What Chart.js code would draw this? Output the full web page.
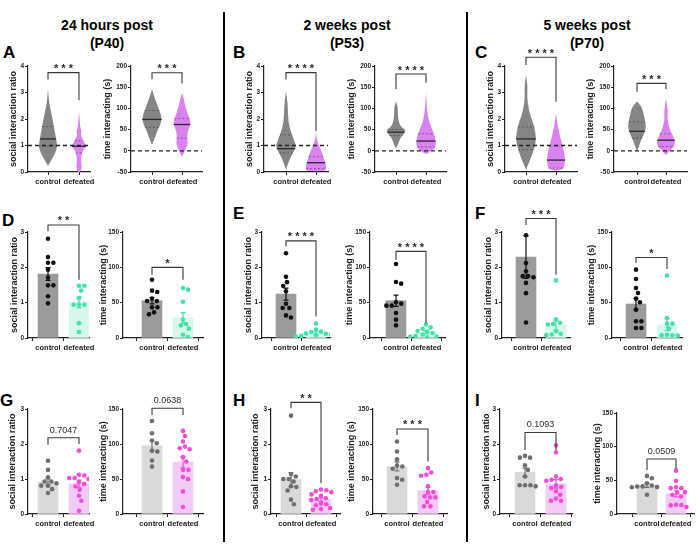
<!DOCTYPE html>
<html>
<head>
<meta charset="utf-8">
<script src="https://cdn.jsdelivr.net/npm/chart.js@4.4.1/dist/chart.umd.min.js"></script>
<style>
body { margin: 0; background: #fff; }
#fig { position: relative; width: 696px; height: 554px; overflow: hidden; font-family: "Liberation Sans", Arial, sans-serif; color: #000; }
.head { position: absolute; top: 16px; width: 200px; font-weight: bold; font-size: 14px; line-height: 18px; text-align: center; }
.letter { position: absolute; font-weight: bold; font-size: 17px; line-height: 17px; }
.sep { position: absolute; top: 12px; width: 2px; height: 530px; background: #000; }
canvas { position: absolute; }
</style>
</head>
<body>
<div id="fig"></div>
<script>
// ---------- labels ----------
const groups = ['control', 'defeated'];
const timepoints = ['24 hours post', '2 weeks post', '5 weeks post'];
const ages = ['(P40)', '(P53)', '(P70)'];
const panelLetters = ['A', 'B', 'C', 'D', 'E', 'F', 'G', 'H', 'I'];
const yTitles = ['social interaction ratio', 'time interacting (s)'];

// ---------- row 1: violin outlines [value, relative half width] ----------
const vA_ratio_ctrl = [[3.09,0],[2.8,0.08],[2.59,0.13],[2.22,0.33],[1.71,0.6],[1.2,0.83],[0.96,0.93],[0.72,0.73],[0.45,0.33],[0.23,0]];
const vA_ratio_def = [[2.27,0],[1.9,0.08],[1.66,0.13],[1.52,0.27],[1.4,0.17],[1.28,0.33],[1.14,0.47],[1.02,0.73],[0.93,0.67],[0.83,0.4],[0.64,0.27],[0.45,0.2],[0.26,0.27],[0.08,0.23],[-0.05,0]];
const vA_time_ctrl = [[145,0],[120,0.33],[96,0.73],[77,1.0],[61,0.83],[45,0.5],[29.5,0.27],[14,0]];
const vA_time_def = [[135.6,0],[130,0.1],[112,0.27],[88.5,0.53],[72.6,0.83],[61,0.83],[49,0.6],[33,0.5],[17.7,0.6],[6,0.4],[-6,0.17],[-14,0]];
const vB_ratio_ctrl = [[3.03,0],[2.59,0.17],[2.09,0.2],[1.71,0.33],[1.33,0.67],[1.08,0.93],[0.93,1.0],[0.71,0.67],[0.45,0.33],[0.2,0.1],[0.08,0]];
const vB_ratio_def = [[1.56,0],[1.3,0.05],[1.21,0.1],[1.02,0.27],[0.83,0.5],[0.58,0.73],[0.45,0.83],[0.26,1.0],[0.1,1.0],[0.04,0.9],[0.03,0]];
const vB_time_ctrl = [[116,0],[104,0.2],[80,0.17],[65,0.33],[57,0.5],[49,0.93],[41,0.83],[29.5,0.4],[14,0.2],[6,0]];
const vB_time_def = [[139,0],[96,0.1],[72.6,0.27],[57,0.5],[45,0.73],[29.5,0.93],[14,1.0],[2,0.73],[-8,0]];
const vC_ratio_ctrl = [[3.66,0],[3.22,0.17],[2.84,0.1],[2.34,0.27],[1.96,0.6],[1.71,0.83],[1.33,1.0],[1.02,0.93],[0.71,0.67],[0.39,0.33],[0.08,0]];
const vC_ratio_def = [[2.21,0],[1.71,0.17],[1.21,0.5],[0.96,0.67],[0.71,0.83],[0.45,0.9],[0.2,0.83],[0.08,0.6],[0.05,0]];
const vC_time_ctrl = [[116,0],[104,0.5],[80.4,0.73],[57,0.93],[41,0.73],[25.5,0.4],[10,0.2],[-2,0]];
const vC_time_def = [[123.8,0],[96,0.2],[72.6,0.13],[49,0.4],[37,0.67],[21.5,0.93],[10,0.83],[-2,0.33],[-10,0]];

// [median, upper quartile, lower quartile] for control, defeated
const vA_ratio_stats = [[1.25,1.72,0.97],[0.97,1.18,0.72]];
const vA_time_stats = [[74,95,55],[62,76,30]];
const vB_ratio_stats = [[0.88,1.4,0.72],[0.35,0.58,0.13]];
const vB_time_stats = [[44,50,36],[23,40,9]];
const vC_ratio_stats = [[1.25,1.7,0.84],[0.45,0.98,0.15]];
const vC_time_stats = [[46,68,30],[25,40,10]];

// ---------- rows 2 and 3: individual animals ----------
const D_ratio_ctrl = [2.81,2.29,2.13,2.13,1.93,1.71,1.49,1.49,1.18,0.98];
const D_ratio_def = [1.48,1.48,1.34,1.13,0.94,0.94,0.94,0.42,0.17];
const D_time_ctrl = [82.5,67,65,55.7,52.4,52.4,43.4,43.4,36.3,33.5];
const D_time_def = [70.8,68.4,51.4,26,19.8,17.9,13.2,4.7,1.4];
const E_ratio_ctrl = [2.40,1.73,1.58,1.47,1.32,0.97,0.85,0.85,0.64,0.58];
const E_ratio_def = [0.41,0.24,0.18,0.17,0.13,0.12,0.10,0.08,0.06,0.04,0.03];
const E_time_ctrl = [104.7,79.2,76.9,50.5,48.6,45.8,45.8,35.4,26,17.9];
const E_time_def = [19,15,13,10,9,7,5,3,2,2,1];
const F_ratio_ctrl = [2.91,2.12,1.89,1.75,1.75,1.72,1.56,1.27,0.44];
const F_ratio_def = [1.63,0.53,0.43,0.40,0.38,0.19,0.12,0.10,0.08];
const F_time_ctrl = [96.7,83.5,70.8,63.7,55.7,50.5,40.1,23.6,23.6,14.2,14.2];
const F_time_def = [88.2,28.3,20.3,20.3,13.2,4.7,3.8,3.8,3.3];
const G_ratio_ctrl = [1.52,1.26,1.05,0.93,0.93,0.88,0.81,0.81,0.71,0.60];
const G_ratio_def = [1.81,1.12,1.10,1.03,1.03,1.0,0.91,0.86,0.79,0.69,0.52,0.38,0.09];
const G_time_ctrl = [132.9,115.3,104.9,101.1,90.2,89.2,76.4,67.9];
const G_time_def = [118.7,111.5,103.5,96.3,94,92.5,81.2,75,63.1,63.1,52.7,49.8,32.3,10];
const H_ratio_ctrl = [2.81,1.14,1.07,1.0,1.0,0.93,0.79,0.77,0.67,0.41,0.28];
const H_ratio_def = [0.70,0.68,0.65,0.62,0.56,0.52,0.45,0.43,0.40,0.30,0.28,0.25,0.17,0.14,0.12];
const H_time_ctrl = [103.5,89.2,78.3,69.3,67.9,64.6,51.3,48.9,41.8];
const H_time_def = [65.5,59.3,56,54.6,39.4,31.3,31.3,25.2,23.7,23.7,17.1,10.9,10.9];
const I_ratio_ctrl = [1.66,1.61,1.61,1.39,1.26,1.07,0.82,0.82,0.82,0.79];
const I_ratio_def = [1.96,1.76,1.07,1.0,0.98,0.95,0.81,0.77,0.74,0.65,0.55,0.44,0.38,0.38];
const I_time_ctrl = [56.6,53.1,45.7,42.3,41,40.8,40,39.8,28.5];
const I_time_def = [64.4,49.2,39.8,38.4,38.4,32.5,32,28.5,26.1,13.8,13.3,12.8,10.3];

// bar heights (mean) and SEM, [control, defeated]
const D_ratio_mean = [1.81, 1.01], D_ratio_sem = [0.18, 0.15];
const D_time_mean = [52.8, 28.3], D_time_sem = [4.5, 7.5];
const E_ratio_mean = [1.24, 0.14], E_ratio_sem = [0.17, 0.035];
const E_time_mean = [52.8, 8], E_time_sem = [8, 2];
const F_ratio_mean = [2.29, 0.36], F_ratio_sem = [0.6, 0.13];
const F_time_mean = [48.1, 18.9], F_time_sem = [8, 8.5];
const G_ratio_mean = [0.91, 0.86], G_ratio_sem = [0.09, 0.11];
const G_time_mean = [97.3, 74], G_time_sem = [7, 8];
const H_ratio_mean = [0.98, 0.41], H_ratio_sem = [0.2, 0.05];
const H_time_mean = [67.9, 33.2], H_time_sem = [6.5, 5];
const I_ratio_mean = [1.19, 0.86], I_ratio_sem = [0.12, 0.12];
const I_time_mean = [42.3, 30], I_time_sem = [2.8, 4.5];

// significance brackets: [bar height, control drop, defeated drop]
const sigA = [[3.75,3.49,2.71],[184,168.6,159]], sigTextA = ['***','***'];
const sigB = [[3.75,3.49,1.55],[181,145,160.6]], sigTextB = ['****','****'];
const sigC = [[4.33,4.04,2.65],[159,139.4,145]], sigTextC = ['****','***'];
const sigD = [[3.2,3.02,1.65],[100,89.6,82.5]], sigTextD = ['**','*'];
const sigE = [[2.75,2.59,0.61],[122.6,110.8,21]], sigTextE = ['****','****'];
const sigF = [[3.38,3.2,1.79],[114,106,97.6]], sigTextF = ['***','*'];
const sigG = [[2.18,1.98,2.0],[151,141.4,141.4]], sigTextG = ['0.7047','0.0638'];
const sigH = [[3.19,3.02,0.88],[121.5,113,75]], sigTextH = ['**','***'];
const sigI = [[2.33,1.83,1.83],[81.7,65.4,66.4]], sigTextI = ['0.1093','0.0509'];

// ---------- styles ----------
const violinColors = ['#858585', '#d982f0'];
const row2Bar = ['#9b9b9b', '#d8f7eb'], row2Pt = ['#111111', '#42e2a9'];
const row3Bar = ['#d9d9d9', '#f1cbf6'], row3Pt = ['#6e6e6e', '#f44cd9'];
const ratioAxis = { min: 0, max: 3, step: 1 }, timeAxis = { min: 0, max: 150, step: 50 };
const ratioAxisV = { min: 0, max: 4, step: 1 }, timeAxisV = { min: -50, max: 200, step: 50 };

Chart.defaults.font.family = '"Liberation Sans", Arial, sans-serif';
Chart.defaults.color = '#222';

const fig = document.getElementById('fig');

// headings, letters and separators
[107, 347, 587].forEach((cx, i) => {
    const h = document.createElement('div');
    h.className = 'head';
    h.style.left = (cx - 100) + 'px';
    h.innerHTML = timepoints[i] + '<br>' + ages[i];
    fig.appendChild(h);
});
[[3,44],[233,44],[475,44],[2,212],[233,205],[475,205],[0,392],[233,392],[475,392]].forEach((p, i) => {
    const l = document.createElement('div');
    l.className = 'letter';
    l.style.left = p[0] + 'px';
    l.style.top = p[1] + 'px';
    l.textContent = panelLetters[i];
    fig.appendChild(l);
});
[223, 466].forEach(x => {
    const s = document.createElement('div');
    s.className = 'sep';
    s.style.left = x + 'px';
    fig.appendChild(s);
});

/* Spread points sideways so they do not overlap (beeswarm) */
const swarm = (vals, cx, pxX, pxY) => {
    const D = 5.4;
    const placed = [];
    return vals.map(v => {
        const y = v * pxY;
        const cands = [0];
        placed.forEach(p => {
            const dy = Math.abs(p.y - y);
            if (dy < D) {
                const dx = Math.sqrt(D * D - dy * dy);
                cands.push(p.x + dx, p.x - dx);
            }
        });
        cands.sort((a, b) => Math.abs(a) - Math.abs(b));
        const x = cands.find(c => placed.every(p => (p.x - c) ** 2 + (p.y - y) ** 2 >= D * D - 1e-6));
        placed.push({ x: x, y: y });
        return { x: cx + x / pxX, y: v };
    });
};

const widthAt = (prof, v) => {
    for (let i = 0; i < prof.length - 1; i++) {
        const [v0, w0] = prof[i], [v1, w1] = prof[i + 1];
        if ((v <= v0 && v >= v1)) return w0 + (w1 - w0) * (v - v0) / (v1 - v0);
    }
    return 0;
};

/* Builds one small chart whose plot area sits at p.l..p.r / p.t..p.b on the page */
const buildPanel = (p) => {
    const YW = Math.round(p.titleOff + 9 * 0.6);
    const PT = 28, XH = 22, PR = 14;
    const W = (p.r - p.l) + YW + PR, H = (p.b - p.t) + PT + XH;
    const cv = document.createElement('canvas');
    cv.width = W; cv.height = H;
    cv.style.left = (p.l - YW) + 'px'; cv.style.top = (p.t - PT) + 'px';
    cv.style.width = W + 'px'; cv.style.height = H + 'px';
    fig.appendChild(cv);

    const pxX = p.d - p.c;
    const xmin = (p.l - p.c) / pxX, xmax = (p.r - p.c) / pxX;
    const pxY = (p.b - p.t) / (p.axis.max - p.axis.min);
    const datasets = [];

    if (p.violins) {
        datasets.push({
            type: 'scatter', showLine: true, pointRadius: 0,
            data: [{ x: xmin, y: p.ref }, { x: xmax, y: p.ref }],
            borderColor: '#222', borderWidth: 1.3, borderDash: [4, 3], order: 0
        });
    } else {
        datasets.push({
            type: 'bar', barThickness: 20, order: 3,
            data: [{ x: 0, y: p.mean[0] }, { x: 1, y: p.mean[1] }],
            backgroundColor: p.barColors
        });
        const cw = 2.5 / pxX;
        [0, 1].forEach(i => {
            const m = p.mean[i], s = p.sem[i];
            datasets.push({
                type: 'scatter', showLine: true, pointRadius: 0, order: 2,
                borderColor: p.ptColors[i], borderWidth: 1.2,
                data: [{ x: i - cw, y: m + s }, { x: i + cw, y: m + s }, { x: i, y: null },
                       { x: i, y: m + s }, { x: i, y: m - s }, { x: i, y: null },
                       { x: i - cw, y: m - s }, { x: i + cw, y: m - s }]
            });
            datasets.push({
                type: 'scatter', order: 1, pointRadius: 2.3, borderWidth: 0,
                backgroundColor: p.ptColors[i],
                data: swarm(p.points[i], i, pxX, pxY)
            });
        });
    }

    const figPlugin = {
        id: 'fig',
        beforeDatasetsDraw(chart) {
            if (!p.violins) return;
            const ctx = chart.ctx, xs = chart.scales.x, ys = chart.scales.y, a = chart.chartArea;
            ctx.save();
            ctx.beginPath();
            ctx.rect(a.left, a.top, a.right - a.left, a.bottom - a.top);
            ctx.clip();
            p.violins.forEach((vl, i) => {
                const cx = xs.getPixelForValue(i);
                const left = vl.prof.map(([v, w]) => [cx - w * 10, ys.getPixelForValue(v)]);
                const right = vl.prof.map(([v, w]) => [cx + w * 10, ys.getPixelForValue(v)]).reverse();
                const pts = left.concat(right);
                ctx.beginPath();
                ctx.moveTo(pts[0][0], pts[0][1]);
                for (let k = 1; k < pts.length - 1; k++) {
                    const mx = (pts[k][0] + pts[k + 1][0]) / 2, my = (pts[k][1] + pts[k + 1][1]) / 2;
                    ctx.quadraticCurveTo(pts[k][0], pts[k][1], mx, my);
                }
                ctx.lineTo(pts[pts.length - 1][0], pts[pts.length - 1][1]);
                ctx.closePath();
                ctx.fillStyle = vl.color;
                ctx.fill();
                // median and quartiles
                vl.stats.forEach((v, k) => {
                    const hw = widthAt(vl.prof, v) * 10;
                    const y = ys.getPixelForValue(v);
                    ctx.beginPath();
                    ctx.setLineDash(k === 0 ? [] : [2, 2]);
                    ctx.strokeStyle = k === 0 ? '#2a2a2a' : 'rgba(0,0,0,0.35)';
                    ctx.lineWidth = k === 0 ? 1.3 : 1;
                    ctx.moveTo(cx - hw, y);
                    ctx.lineTo(cx + hw, y);
                    ctx.stroke();
                });
                ctx.setLineDash([]);
            });
            ctx.restore();
        },
        afterDraw(chart) {
            const ctx = chart.ctx, xs = chart.scales.x, ys = chart.scales.y;
            const [yb, yc, yd] = p.sig.map(v => ys.getPixelForValue(v));
            const x0 = xs.getPixelForValue(0), x1 = xs.getPixelForValue(1);
            ctx.save();
            ctx.strokeStyle = '#3a3a3a';
            ctx.lineWidth = 1.1;
            ctx.beginPath();
            ctx.moveTo(x0, yc); ctx.lineTo(x0, yb); ctx.lineTo(x1, yb); ctx.lineTo(x1, yd);
            ctx.stroke();
            ctx.fillStyle = '#2a2a2a';
            ctx.textAlign = 'center';
            ctx.textBaseline = 'middle';
            if (p.sigText.indexOf('*') >= 0) {
                ctx.font = 'bold 11px "Liberation Sans", Arial, sans-serif';
                ctx.fillText(p.sigText.split('').join(' '), (x0 + x1) / 2, yb - 3.5);
            } else {
                ctx.font = '9px "Liberation Sans", Arial, sans-serif';
                ctx.fillText(p.sigText, (x0 + x1) / 2, yb - 7.5);
            }
            ctx.restore();
        }
    };

    new Chart(cv, {
        type: 'scatter',
        data: { datasets: datasets },
        options: {
            responsive: false, animation: false, events: [],
            layout: { padding: { top: PT, right: PR, left: 0, bottom: 0 } },
            plugins: { legend: { display: false }, tooltip: { enabled: false } },
            scales: {
                x: {
                    type: 'linear', min: xmin, max: xmax, offset: false,
                    afterFit: s => { s.height = XH; },
                    afterBuildTicks: s => { s.ticks = [{ value: 0 }, { value: 1 }]; },
                    grid: { drawOnChartArea: false, tickLength: 3, color: '#222' },
                    border: { color: '#222', width: 1.2 },
                    ticks: {
                        autoSkip: false, maxRotation: 0, padding: 2, color: '#222',
                        font: { size: 7.5, weight: 'bold' },
                        callback: (v, i) => groups[i]
                    }
                },
                y: {
                    min: p.axis.min, max: p.axis.max,
                    afterFit: s => { s.width = YW; },
                    grid: { drawOnChartArea: false, tickLength: 3, color: '#222' },
                    border: { color: '#222', width: 1.2 },
                    ticks: { stepSize: p.axis.step, padding: 1, color: '#222', font: { size: 6.5, weight: 'bold' } },
                    title: {
                        display: true, text: p.yTitle, color: '#222',
                        padding: { top: 0, bottom: 0 }, font: { size: 9, weight: 'bold' }
                    }
                }
            }
        },
        plugins: [figPlugin]
    });
};

// ---------- panels ----------
const violinPanel = (l, r, c, d, off, isTime, profC, profD, stats, sig, sigText) => ({
    l: l, r: r, t: 66, b: 172, c: c, d: d, titleOff: off,
    axis: isTime ? timeAxisV : ratioAxisV, ref: isTime ? 0 : 1,
    yTitle: yTitles[isTime ? 1 : 0],
    violins: [
        { prof: profC, stats: stats[0], color: violinColors[0] },
        { prof: profD, stats: stats[1], color: violinColors[1] }
    ],
    sig: sig, sigText: sigText
});
const barPanel = (l, r, t, b, c, d, off, isTime, ctrl, def, mean, sem, sig, sigText, row) => ({
    l: l, r: r, t: t, b: b, c: c, d: d, titleOff: off,
    axis: isTime ? timeAxis : ratioAxis, yTitle: yTitles[isTime ? 1 : 0],
    points: [ctrl, def], mean: mean, sem: sem,
    barColors: row === 2 ? row2Bar : row3Bar, ptColors: row === 2 ? row2Pt : row3Pt,
    sig: sig, sigText: sigText
});

const panels = [
    violinPanel(28, 90, 48, 79, 15, false, vA_ratio_ctrl, vA_ratio_def, vA_ratio_stats, sigA[0], sigTextA[0]),
    violinPanel(131, 202, 152, 182, 24, true, vA_time_ctrl, vA_time_def, vA_time_stats, sigA[1], sigTextA[1]),
    violinPanel(264, 328, 286, 316, 15, false, vB_ratio_ctrl, vB_ratio_def, vB_ratio_stats, sigB[0], sigTextB[0]),
    violinPanel(375, 446, 396, 426, 24, true, vB_time_ctrl, vB_time_def, vB_time_stats, sigB[1], sigTextB[1]),
    violinPanel(505, 577, 526, 556, 15, false, vC_ratio_ctrl, vC_ratio_def, vC_ratio_stats, sigC[0], sigTextC[0]),
    violinPanel(614, 687, 637, 666, 24, true, vC_time_ctrl, vC_time_def, vC_time_stats, sigC[1], sigTextC[1]),

    barPanel(28, 89, 232, 338, 48, 79, 14, false, D_ratio_ctrl, D_ratio_def, D_ratio_mean, D_ratio_sem, sigD[0], sigTextD[0], 2),
    barPanel(123, 203, 232, 338, 152, 183, 20, true, D_time_ctrl, D_time_def, D_time_mean, D_time_sem, sigD[1], sigTextD[1], 2),
    barPanel(262, 330, 232, 338, 286, 316, 14, false, E_ratio_ctrl, E_ratio_def, E_ratio_mean, E_ratio_sem, sigE[0], sigTextE[0], 2),
    barPanel(370, 445, 232, 338, 396, 426, 21, true, E_time_ctrl, E_time_def, E_time_mean, E_time_sem, sigE[1], sigTextE[1], 2),
    barPanel(502, 570, 232, 338, 526, 556, 14, false, F_ratio_ctrl, F_ratio_def, F_ratio_mean, F_ratio_sem, sigF[0], sigTextF[0], 2),
    barPanel(612, 682, 232, 338, 636, 667, 21, true, F_time_ctrl, F_time_def, F_time_mean, F_time_sem, sigF[1], sigTextF[1], 2),

    barPanel(28, 89, 409, 514, 48, 79, 16, false, G_ratio_ctrl, G_ratio_def, G_ratio_mean, G_ratio_sem, sigG[0], sigTextG[0], 3),
    barPanel(123, 203, 409, 514, 152, 183, 20, true, G_time_ctrl, G_time_def, G_time_mean, G_time_sem, sigG[1], sigTextG[1], 3),
    barPanel(271, 340, 409, 514, 291, 321, 16, false, H_ratio_ctrl, H_ratio_def, H_ratio_mean, H_ratio_sem, sigH[0], sigTextH[0], 3),
    barPanel(373, 447, 409, 514, 397, 428, 22, true, H_time_ctrl, H_time_def, H_time_mean, H_time_sem, sigH[1], sigTextH[1], 3),
    barPanel(500, 572, 409, 514, 525, 556, 14, false, I_ratio_ctrl, I_ratio_def, I_ratio_mean, I_ratio_sem, sigI[0], sigTextI[0], 3),
    barPanel(617, 694, 413, 514, 647, 676, 20, true, I_time_ctrl, I_time_def, I_time_mean, I_time_sem, sigI[1], sigTextI[1], 3)
];

panels.forEach(buildPanel);
</script>
</body>
</html>
